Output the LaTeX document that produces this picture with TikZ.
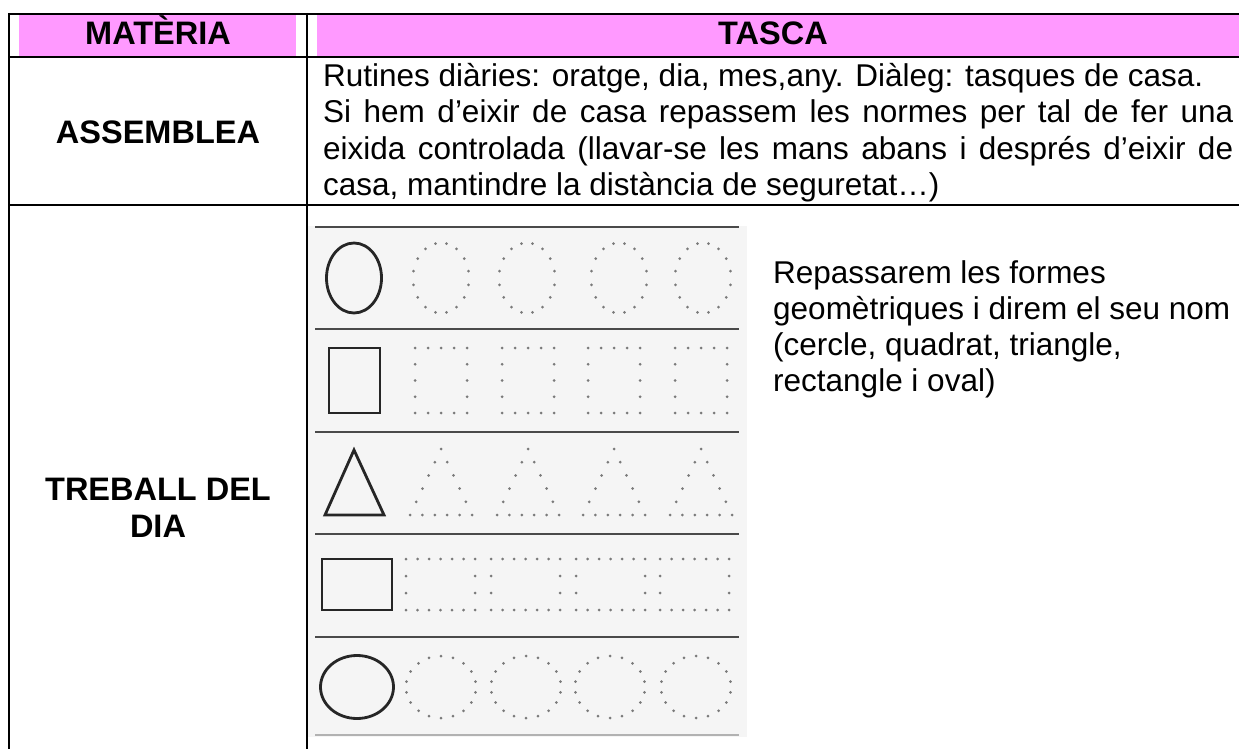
\documentclass[tikz,border=0pt]{standalone}
\usepackage{fontspec}
\setmainfont{Liberation Sans}
\definecolor{hdrpink}{HTML}{FF99FF}
\definecolor{sheetbg}{HTML}{F5F5F5}
\definecolor{sheetline}{HTML}{4A4A4A}
\definecolor{dotc}{HTML}{7A7A7A}
\begin{document}
\begin{tikzpicture}[x=1pt,y=-1pt,
  body/.style={font=\fontsize{31.5}{36}\selectfont, inner sep=0pt},
  head/.style={font=\bfseries\fontsize{32.5}{36}\selectfont, inner sep=0pt},
  rule/.style={line width=2pt, black},
  shline/.style={line width=2.6pt, sheetline},
  solid shape/.style={line width=2.8pt, black!85},
  dotpt/.style={fill=dotc}]
\useasboundingbox (0,0) rectangle (1239,749);
\fill[white] (0,0) rectangle (1239,749);
% header fills
\fill[hdrpink] (19,15) rectangle (296,57);
\fill[hdrpink] (317,15) rectangle (1239,57);
% worksheet background
\fill[sheetbg] (308,226) rectangle (747,737);
% table rules
\draw[rule] (9,14) -- (1239,14);
\draw[rule] (9,57) -- (1239,57);
\draw[rule] (9,205) -- (1239,205);
\draw[rule] (9,13) -- (9,749);
\draw[rule] (307,13) -- (307,749);
% header text
\node[head, anchor=base] (hm) at (158,45) {MATÈRIA};
\node[head, anchor=base] (ht) at (773,45) {TASCA};
% row 1
\node[head, anchor=base] (as) at (158,143) {ASSEMBLEA};
\node[body, anchor=base west] (l1) at (323,87) {Rutines diàries: oratge, dia, mes,any. Diàleg: tasques de casa.};
\node[body, anchor=base west] (l2) at (323,123) {\makebox[910pt][s]{Si hem d’eixir de casa repassem les normes per tal de fer una}};
\node[body, anchor=base west] (l3) at (323,159) {\makebox[910pt][s]{eixida controlada (llavar-se les mans abans i després d’eixir de}};
\node[body, anchor=base west] (l4) at (323,195) {casa, mantindre la distància de seguretat…)};
% row 2 left
\node[head, anchor=base] (tr1) at (158,500) {TREBALL DEL};
\node[head, anchor=base] (tr2) at (158,537) {DIA};
% row 2 right text
\node[body, anchor=base west] (r1) at (773,283) {Repassarem les formes};
\node[body, anchor=base west] (r2) at (773,319) {geomètriques i direm el seu nom};
\node[body, anchor=base west] (r3) at (773,355) {(cercle, quadrat, triangle,};
\node[body, anchor=base west] (r4) at (773,391) {rectangle i oval)};
% worksheet lines
\draw[shline] (315,227) -- (739,227);
\draw[shline] (315,329) -- (739,329);
\draw[shline] (315,432) -- (739,432);
\draw[shline] (315,534) -- (739,534);
\draw[shline] (315,637) -- (739,637);
\draw[line width=2pt, gray!60] (315,735) -- (739,735);
% row 1: ellipses
\draw[solid shape] (354,278) ellipse [x radius=27.5, y radius=35];
\foreach \cx in {441,527,619,703}{
  \foreach \a in {11.25,33.75,...,350}{
    \fill[dotpt] ({\cx+28*cos(\a)},{278+35*sin(\a)}) circle (1.5);
  }
}
% row 2: squares
\draw[solid shape] (329,348) rectangle (380,413);
\foreach \x in {415,502,588,675}{
  \foreach \i in {0,...,4}{
    \fill[dotpt] ({\x+13*\i},348) circle (1.5);
    \fill[dotpt] ({\x+13*\i},413) circle (1.5);
  }
  \foreach \j in {1,2,3}{
    \fill[dotpt] (\x,{348+16.25*\j}) circle (1.5);
    \fill[dotpt] ({\x+52},{348+16.25*\j}) circle (1.5);
  }
}
% row 3: triangles
\draw[solid shape, line join=miter] (354,450) -- (384,515) -- (325,515) -- cycle;
\foreach \ax in {441,528,614,701}{
  \fill[dotpt] (\ax,449) circle (1.5);
  \foreach \k in {1,...,4}{
    \fill[dotpt] ({\ax-31*\k/5},{449+66*\k/5}) circle (1.5);
    \fill[dotpt] ({\ax+31*\k/5},{449+66*\k/5}) circle (1.5);
  }
  \foreach \i in {0,...,5}{
    \fill[dotpt] ({\ax-31+62*\i/5},515) circle (1.5);
  }
}
% row 4: rectangles
\draw[solid shape] (322,559) rectangle (392,610);
\foreach \x in {406,491,576,660}{
  \foreach \i in {0,...,6}{
    \fill[dotpt] ({\x+11.5*\i},559) circle (1.5);
    \fill[dotpt] ({\x+11.5*\i},610) circle (1.5);
  }
  \foreach \y in {576,593}{
    \fill[dotpt] (\x,\y) circle (1.5);
    \fill[dotpt] ({\x+69},\y) circle (1.5);
  }
}
% row 5: ovals
\draw[solid shape] (357,687) ellipse [x radius=36.5, y radius=31.5];
\foreach \cx in {441,526,610,696}{
  \foreach \a in {10,30,...,350}{
    \fill[dotpt] ({\cx+35*cos(\a)},{687+31*sin(\a)}) circle (1.5);
  }
}
\end{tikzpicture}
\end{document}
